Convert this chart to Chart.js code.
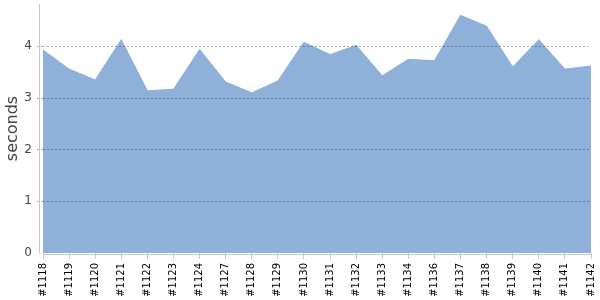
<!DOCTYPE html>
<html>
<head>
<meta charset="utf-8">
<script src="https://cdn.jsdelivr.net/npm/chart.js@4"></script>
<style>
  html, body { margin: 0; padding: 0; background: #fff; }
  #wrap { width: 600px; height: 300px; }
</style>
</head>
<body>
<div id="wrap"><canvas id="myChart"></canvas></div>
<script>
const builds = [
  "#1118", "#1119", "#1120", "#1121", "#1122", "#1123", "#1124", "#1127",
  "#1128", "#1129", "#1130", "#1131", "#1132", "#1133", "#1134", "#1136",
  "#1137", "#1138", "#1139", "#1140", "#1141", "#1142",
];
const seconds = [
  3.93, 3.56, 3.35, 4.13, 3.14, 3.17, 3.94, 3.31,
  3.10, 3.33, 4.08, 3.84, 4.02, 3.43, 3.75, 3.72,
  4.60, 4.39, 3.60, 4.13, 3.56, 3.62,
];
const yMax = 4.82;

// axis lines sit a few px outside the plot, like the original
const axisLines = {
  id: "axisLines",
  afterDraw(chart) {
    const { ctx, chartArea } = chart;
    ctx.save();
    ctx.strokeStyle = "#c8c8c8";
    ctx.lineWidth = 1;
    ctx.beginPath();
    ctx.moveTo(chartArea.left - 3.5, chartArea.top);
    ctx.lineTo(chartArea.left - 3.5, chartArea.bottom);
    ctx.moveTo(chartArea.left, chartArea.bottom + 1.5);
    ctx.lineTo(chartArea.right, chartArea.bottom + 1.5);
    ctx.stroke();
    ctx.restore();
  },
};

function createChart() {
  Chart.defaults.font.family = "'DejaVu Sans', sans-serif";
  const ctx = document.getElementById("myChart").getContext("2d");
  new Chart(ctx, {
    type: "line",
    data: {
      labels: builds,
      datasets: [
        {
          label: "seconds",
          data: seconds,
          fill: "origin",
          backgroundColor: "rgb(142, 176, 217)",
          borderColor: "rgb(142, 176, 217)",
          borderWidth: 1,
          pointRadius: 0,
          tension: 0,
        },
      ],
    },
    options: {
      responsive: true,
      maintainAspectRatio: false,
      animation: false,
      layout: { padding: { top: 4, right: 9, left: 0, bottom: 0 } },
      plugins: {
        legend: { display: false },
        tooltip: { enabled: false },
      },
      scales: {
        x: {
          offset: false,
          border: { display: false },
          grid: {
            drawOnChartArea: false,
            drawTicks: true,
            tickLength: 6,
            color: "#c8c8c8",
          },
          ticks: {
            autoSkip: false,
            maxRotation: 90,
            minRotation: 90,
            padding: 4,
            color: "#000",
            font: { size: 10 },
          },
          afterFit(scale) {
            scale.height = 47;
            scale.paddingLeft = 0;
            scale.paddingRight = 0;
          },
        },
        y: {
          min: 0,
          max: yMax,
          border: { display: false, dash: [2, 2] },
          grid: {
            z: 1, // dotted lines show over the filled area
            color: (c) => (c.tick && c.tick.value === 0 ? "rgba(0,0,0,0)" : "rgba(0,0,0,0.3)"),
            tickBorderDash: [2, 2],
            drawTicks: true,
            tickLength: 6,
          },
          ticks: {
            stepSize: 1,
            padding: 5,
            color: "#444",
            font: { size: 12 },
          },
          afterBuildTicks(axis) {
            axis.ticks = axis.ticks.filter((t) => Number.isInteger(t.value));
          },
          title: {
            display: true,
            text: "seconds",
            color: "#444",
            font: { size: 16 },
            padding: { top: 3, bottom: 0 },
          },
          afterFit(scale) {
            scale.width = 43;
            scale.paddingTop = 0;
            scale.paddingBottom = 0;
          },
        },
      },
    },
    plugins: [axisLines],
  });
}

createChart();
</script>
</body>
</html>
